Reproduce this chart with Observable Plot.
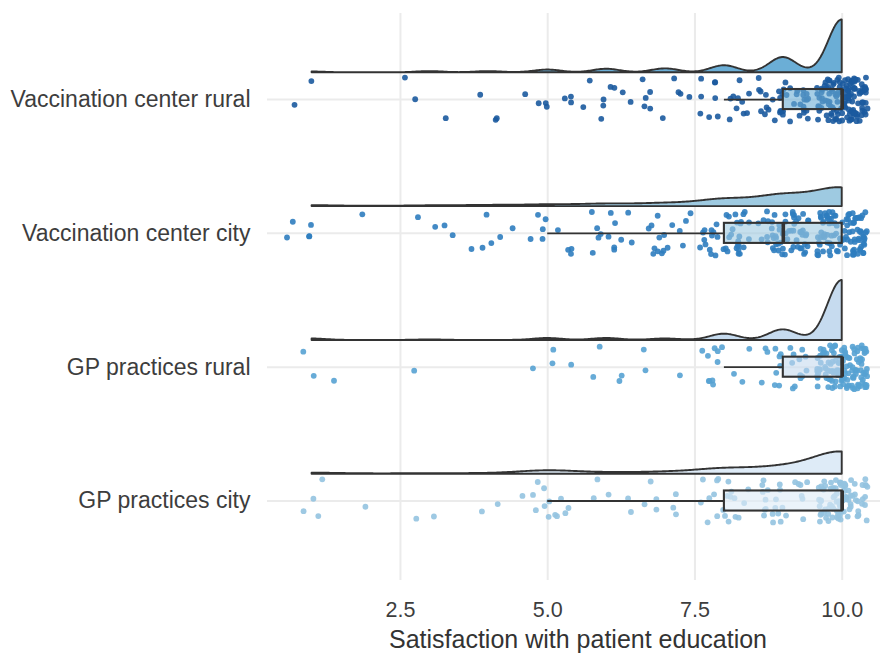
<!DOCTYPE html>
<html><head><meta charset="utf-8">
<script src="https://cdn.jsdelivr.net/npm/d3@7"></script>
<script src="https://cdn.jsdelivr.net/npm/@observablehq/plot@0.6"></script>
<style>body{margin:0;background:#fff;}</style>
</head><body><div id="chart"></div>
<script>
// ---- data ----
const categories = ["Vaccination center rural", "Vaccination center city", "GP practices rural", "GP practices city"];
const scores = [1, 2, 3, 4, 5, 6, 7, 8, 9, 10];
const countsVaccRural = [2, 0, 3, 3, 7, 9, 10, 18, 39, 135];
const countsVaccCity  = [5, 1, 4, 6, 9, 13, 16, 38, 60, 100];
const countsGPRural   = [3, 0, 1, 0, 4, 4, 3, 13, 22, 125];
const countsGPCity    = [4, 1, 2, 2, 13, 5, 7, 20, 25, 85];
const xTicks = [2.5, 5.0, 7.5, 10.0];
const xLabel = "Satisfaction with patient education";

// ---- styles ----
const densityFill = ["#6baed6", "#9ecae1", "#c6dbef", "#deebf7"];
const pointFill = ["#1b5a9e", "#2f7dbf", "#56a2d3", "#94c3e0"];
const ink = "#333333";

const allCounts = [countsVaccRural, countsVaccCity, countsGPRural, countsGPCity];

// expand counts to individual scores
const groups = allCounts.map((counts, gi) => {
  const vals = [];
  counts.forEach((c, k) => { for (let j = 0; j < c; j++) vals.push(scores[k]); });
  return vals;
});

// seeded jitter (visual only)
const rnd = d3.randomUniform.source(d3.randomLcg(0.37))(-1, 1);
const points = groups.map((vals, gi) => vals.map(v => ({
  g: gi, v, xj: v + rnd() * 0.43, yj: gi + rnd() * 0.165
})));

// box stats
const boxStats = groups.map((vals, gi) => {
  const s = vals.slice().sort(d3.ascending);
  const q1 = d3.quantileSorted(s, 0.25), med = d3.quantileSorted(s, 0.5), q3 = d3.quantileSorted(s, 0.75);
  const iqr = q3 - q1;
  const lo = d3.min(s.filter(v => v >= q1 - 1.5 * iqr));
  const hi = d3.max(s.filter(v => v <= q3 + 1.5 * iqr));
  return {g: gi, q1, med, q3, lo, hi};
});

// KDE (gaussian, bw.nrd0), trimmed to data range
const dens = groups.map((vals, gi) => {
  const s = vals.slice().sort(d3.ascending);
  const n = s.length;
  const sd = d3.deviation(s);
  const iqr = d3.quantileSorted(s, 0.75) - d3.quantileSorted(s, 0.25);
  const bw = 0.9 * Math.min(sd, iqr / 1.34) * Math.pow(n, -0.2);
  const lo = s[0], hi = s[n - 1];
  const rows = [];
  const N = 400;
  for (let i = 0; i <= N; i++) {
    const x = lo + (hi - lo) * i / N;
    let d = 0;
    for (const v of s) { const u = (x - v) / bw; d += Math.exp(-0.5 * u * u); }
    d /= n * bw * Math.sqrt(2 * Math.PI);
    rows.push({g: gi, x, d});
  }
  return rows;
});
const maxD = d3.max(dens.flat(), r => r.d);
const densH = 0.448, densOff = 0.2, boxH = 0.075;
const densRows = dens.map(rows => rows.map(r => ({...r, y1: r.g - densOff, y2: r.g - densOff - r.d / maxD * densH})));

const marks = [
  Plot.gridX(xTicks, {stroke: "#ebebeb", strokeOpacity: 1, strokeWidth: 2}),
  Plot.gridY([0, 1, 2, 3], {stroke: "#ebebeb", strokeOpacity: 1, strokeWidth: 2}),
];
for (let g = 0; g < 4; g++) {
  marks.push(Plot.areaY(densRows[g], {x: "x", y1: "y1", y2: "y2", fill: densityFill[g], stroke: ink, strokeWidth: 1.9, curve: "linear"}));
}
for (let g = 0; g < 4; g++) {
  marks.push(Plot.dot(points[g], {x: "xj", y: "yj", r: 2.9, fill: pointFill[g], fillOpacity: 0.9, stroke: "none"}));
}
for (let g = 0; g < 4; g++) {
  const b = [boxStats[g]];
  marks.push(Plot.ruleY(b, {y: "g", x1: "lo", x2: "q1", stroke: ink, strokeWidth: 1.8}));
  marks.push(Plot.ruleY(b, {y: "g", x1: "q3", x2: "hi", stroke: ink, strokeWidth: 1.8}));
  marks.push(Plot.rect(b, {x1: "q1", x2: "q3", y1: d => d.g - boxH, y2: d => d.g + boxH, fill: densityFill[g], fillOpacity: 0.6, stroke: ink, strokeWidth: 2.1}));
  marks.push(Plot.ruleX(b, {x: "med", y1: d => d.g - boxH, y2: d => d.g + boxH, stroke: ink, strokeWidth: 3.6}));
}
marks.push(Plot.axisX({ticks: xTicks, tickFormat: d3.format(".1f"), tickSize: 0, tickPadding: 21, fontSize: 21.5, label: null}));
marks.push(Plot.axisY({ticks: [0, 1, 2, 3], tickFormat: i => categories[i], tickSize: 0, tickPadding: 17, fontSize: 23, label: null}));
marks.push(Plot.text([xLabel], {text: d => d, frameAnchor: "bottom", dy: 67, dx: 4, fontSize: 25, fill: "#333"}));

const chart = Plot.plot({
  width: 882, height: 657,
  marginLeft: 267, marginRight: 2, marginTop: 13, marginBottom: 77,
  x: {domain: [0.243, 10.65]},
  y: {domain: [-0.643, 3.594], reverse: true},
  style: {fontFamily: "'Liberation Sans', Arial, sans-serif", color: "#3d3d3d", background: "#fff", overflow: "visible"},
  marks
});
document.getElementById("chart").appendChild(chart);
</script>
</body></html>
